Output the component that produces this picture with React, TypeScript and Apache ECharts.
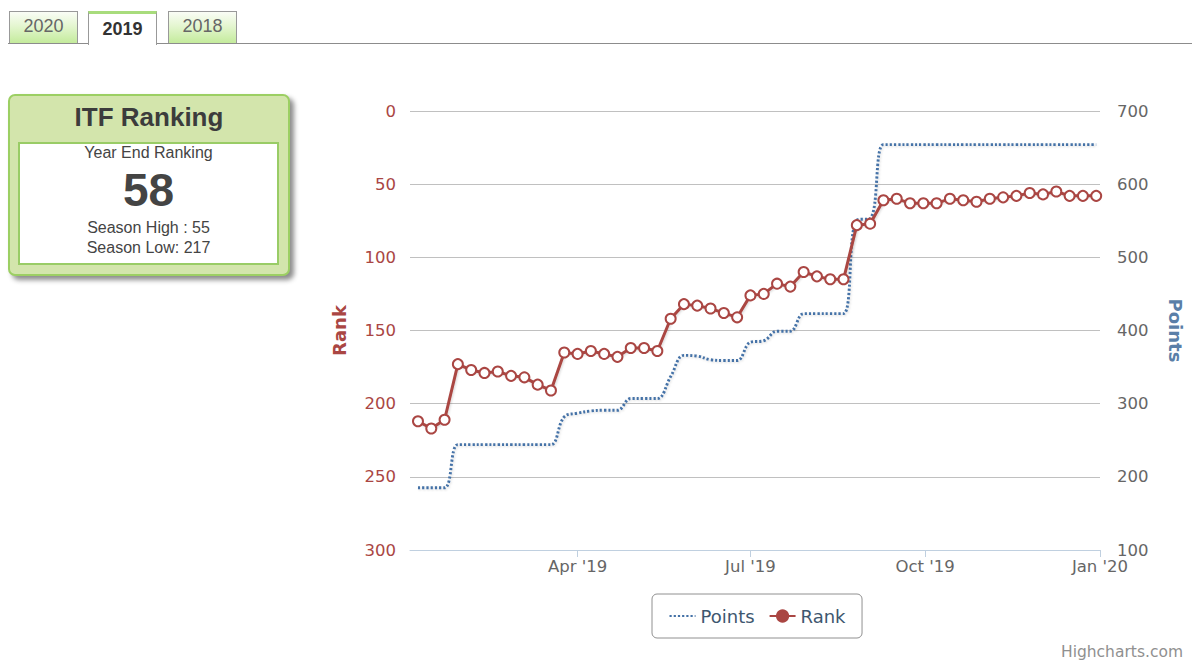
import React, { useEffect, useRef } from "react";
import * as echarts from "echarts";

// ---- data ----
const weekDates = [
  "2019-01-07", "2019-01-14", "2019-01-21", "2019-01-28",
  "2019-02-04", "2019-02-11", "2019-02-18", "2019-02-25",
  "2019-03-04", "2019-03-11", "2019-03-18", "2019-03-25",
  "2019-04-01", "2019-04-08", "2019-04-15", "2019-04-22", "2019-04-29",
  "2019-05-06", "2019-05-13", "2019-05-20", "2019-05-27",
  "2019-06-03", "2019-06-10", "2019-06-17", "2019-06-24",
  "2019-07-01", "2019-07-08", "2019-07-15", "2019-07-22", "2019-07-29",
  "2019-08-05", "2019-08-12", "2019-08-19", "2019-08-26",
  "2019-09-02", "2019-09-09", "2019-09-16", "2019-09-23", "2019-09-30",
  "2019-10-07", "2019-10-14", "2019-10-21", "2019-10-28",
  "2019-11-04", "2019-11-11", "2019-11-18", "2019-11-25",
  "2019-12-02", "2019-12-09", "2019-12-16", "2019-12-23", "2019-12-30",
];

const rankValues = [
  212, 217, 211, 173, 177, 179, 178, 181, 182, 187, 191, 165,
  166, 164, 166, 168, 162, 162, 164, 142, 132, 133, 135, 138, 141,
  126, 125, 118, 120, 110, 113, 115, 115, 78, 77, 61, 60, 63, 63,
  63, 60, 61, 62, 60, 59, 58, 56, 57, 55, 58, 58, 58,
];

const pointsValues = [
  185, 185, 185, 244, 244, 244, 244, 244, 244, 244, 244, 282,
  287, 290, 291, 291, 307, 307, 307, 337, 366, 365, 360, 359, 359,
  384, 386, 399, 399, 423, 423, 423, 423, 551, 553, 654, 654, 654, 654,
  654, 654, 654, 654, 654, 654, 654, 654, 654, 654, 654, 654, 654,
];

const xTickDates = ["2019-04-01", "2019-07-01", "2019-10-01", "2020-01-01"];
const xTickLabels = ["Apr '19", "Jul '19", "Oct '19", "Jan '20"];

const tabLabels = ["2020", "2019", "2018"];
const activeTab = "2019";

const FONT = "'DejaVu Sans', Verdana, sans-serif";
const HFONT = "'Liberation Sans', Arial, sans-serif";

export default function App() {
  const ref = useRef<HTMLDivElement>(null);

  useEffect(() => {
    document.body.style.overflow = "hidden";
    const chart = echarts.init(ref.current as HTMLDivElement, null, { renderer: "svg" });
    const day = 86400000;
    const xs = weekDates.map((d) => Date.parse(d));
    const tickValues = xTickDates.map((d) => Date.parse(d));
    const xMin = xs[0] - 4.2 * day;
    const xMax = tickValues[tickValues.length - 1];

    chart.setOption({
      animation: false,
      grid: { left: 410, right: 91, top: 111, bottom: 113, containLabel: false },
      xAxis: {
        type: "value",
        min: xMin,
        max: xMax,
        position: "bottom",
        axisLine: { show: true, onZero: false, lineStyle: { color: "#C0D0E0", width: 1 } },
        axisTick: {
          show: true,
          customValues: tickValues,
          length: 7,
          inside: false,
          lineStyle: { color: "#C0D0E0", width: 1 },
        },
        axisLabel: {
          customValues: tickValues,
          formatter: (v: number) => {
            const i = tickValues.indexOf(v);
            return i >= 0 ? xTickLabels[i] : "";
          },
          color: "#666666",
          fontSize: 16.5,
          fontFamily: FONT,
          margin: 8,
        },
        splitLine: { show: false },
      },
      yAxis: [
        {
          type: "value",
          inverse: true,
          min: 0,
          max: 300,
          interval: 50,
          position: "left",
          name: "Rank",
          nameLocation: "middle",
          nameGap: 62,
          nameRotate: 90,
          nameTextStyle: { color: "#AA4643", fontWeight: "bold", fontSize: 18, fontFamily: FONT },
          axisLine: { show: false },
          axisTick: { show: false },
          axisLabel: { color: "#AA4643", fontSize: 16.5, fontFamily: FONT, margin: 14 },
          splitLine: { show: true, lineStyle: { color: "#C0C0C0", width: 1 } },
        },
        {
          type: "value",
          min: 100,
          max: 700,
          interval: 100,
          position: "right",
          name: "Points",
          nameLocation: "middle",
          nameGap: 66,
          nameRotate: -90,
          nameTextStyle: { color: "#5a7fa8", fontWeight: "bold", fontSize: 18, fontFamily: FONT },
          axisLine: { show: false },
          axisTick: { show: false },
          axisLabel: { color: "#666666", fontSize: 16.5, fontFamily: FONT, margin: 17 },
          splitLine: { show: false },
        },
      ],
      legend: {
        left: 652,
        top: 594,
        orient: "horizontal",
        padding: [13, 16.5, 13, 16.5],
        itemGap: 14,
        itemWidth: 26,
        itemHeight: 14,
        borderColor: "#909090",
        borderWidth: 1,
        borderRadius: 5,
        textStyle: { color: "#3E576F", fontSize: 18, fontFamily: FONT },
        data: [
          { name: "Points", itemStyle: { opacity: 0 } },
          { name: "Rank", itemStyle: { color: "#AA4643", borderColor: "#AA4643" } },
        ],
      },
      series: [
        {
          name: "Points",
          type: "line",
          yAxisIndex: 1,
          data: xs.map((x, i) => [x, pointsValues[i]]),
          smooth: 0.4,
          symbol: "none",
          showSymbol: false,
          z: 2,
          itemStyle: { color: "#4572A7" },
          lineStyle: {
            color: "#4572A7",
            width: 2.9,
            type: [2.2, 2],
            shadowColor: "rgba(0,0,0,0.15)",
            shadowBlur: 2,
            shadowOffsetX: 1,
            shadowOffsetY: 1,
          },
        },
        {
          name: "Rank",
          type: "line",
          yAxisIndex: 0,
          data: xs.map((x, i) => [x, rankValues[i]]),
          symbol: "circle",
          symbolSize: 10,
          z: 3,
          itemStyle: { color: "#ffffff", borderColor: "#AA4643", borderWidth: 2 },
          lineStyle: {
            color: "#AA4643",
            width: 3,
            shadowColor: "rgba(0,0,0,0.15)",
            shadowBlur: 2,
            shadowOffsetX: 1,
            shadowOffsetY: 1,
          },
        },
      ],
      graphic: [
        {
          type: "text",
          right: 9,
          bottom: 3,
          style: { text: "Highcharts.com", fill: "#909090", fontSize: 15.5, fontFamily: FONT },
        },
      ],
    });

    return () => chart.dispose();
  }, []);

  const tabLeft = [9, 88, 168];

  return (
    <div
      style={{
        position: "absolute",
        left: 0,
        top: 0,
        width: 1192,
        height: 663,
        overflow: "hidden",
        background: "#ffffff",
      }}
    >
      <div ref={ref} style={{ position: "absolute", left: 0, top: 0, width: 1192, height: 663 }} />

      {/* tab baseline */}
      <div
        style={{
          position: "absolute",
          left: 8,
          top: 43,
          width: 1184,
          height: 0,
          borderTop: "1px solid #8c8c8c",
        }}
      />

      {tabLabels.map((t, i) => {
        const active = t === activeTab;
        return (
          <div
            key={t}
            style={{
              position: "absolute",
              left: tabLeft[i],
              top: 11,
              width: 69,
              height: active ? 34 : 32,
              boxSizing: "border-box",
              border: "1px solid #999999",
              borderTop: active ? "3px solid #a8dc7c" : "1px solid #999999",
              borderBottom: "none",
              background: active
                ? "#ffffff"
                : "linear-gradient(to bottom, #fafdf6 0%, #e4f6d0 45%, #c4eb9c 100%)",
              fontFamily: HFONT,
              fontSize: 18,
              fontWeight: active ? "bold" : "normal",
              color: active ? "#333333" : "#666666",
              textAlign: "center",
              lineHeight: active ? "30px" : "29px",
            }}
          >
            {t}
          </div>
        );
      })}

      {/* ranking box */}
      <div
        style={{
          position: "absolute",
          left: 8,
          top: 94,
          width: 282,
          height: 182,
          boxSizing: "border-box",
          border: "2px solid #9ccf63",
          borderRadius: 7,
          background: "#d3e5ac",
          boxShadow: "4px 4px 5px rgba(0,0,0,0.45)",
        }}
      />
      <div
        style={{
          position: "absolute",
          left: 8,
          top: 101,
          width: 282,
          lineHeight: "32px",
          textAlign: "center",
          fontFamily: HFONT,
          fontWeight: "bold",
          fontSize: 26,
          color: "#3c3c3c",
        }}
      >
        ITF Ranking
      </div>
      <div
        style={{
          position: "absolute",
          left: 18,
          top: 142,
          width: 261,
          height: 123,
          boxSizing: "border-box",
          border: "2px solid #99cc66",
          background: "#ffffff",
        }}
      />
      <div
        style={{
          position: "absolute",
          left: 18,
          top: 143,
          width: 261,
          lineHeight: "20px",
          textAlign: "center",
          fontFamily: HFONT,
          fontSize: 16,
          color: "#444444",
        }}
      >
        Year End Ranking
      </div>
      <div
        style={{
          position: "absolute",
          left: 18,
          top: 164,
          width: 261,
          lineHeight: "52px",
          textAlign: "center",
          fontFamily: HFONT,
          fontWeight: "bold",
          fontSize: 46,
          color: "#444444",
        }}
      >
        58
      </div>
      <div
        style={{
          position: "absolute",
          left: 18,
          top: 218,
          width: 261,
          lineHeight: "20px",
          textAlign: "center",
          fontFamily: HFONT,
          fontSize: 16,
          color: "#444444",
        }}
      >
        Season High : 55
      </div>
      <div
        style={{
          position: "absolute",
          left: 18,
          top: 237.5,
          width: 261,
          lineHeight: "20px",
          textAlign: "center",
          fontFamily: HFONT,
          fontSize: 16,
          color: "#444444",
        }}
      >
        Season Low: 217
      </div>
    </div>
  );
}
